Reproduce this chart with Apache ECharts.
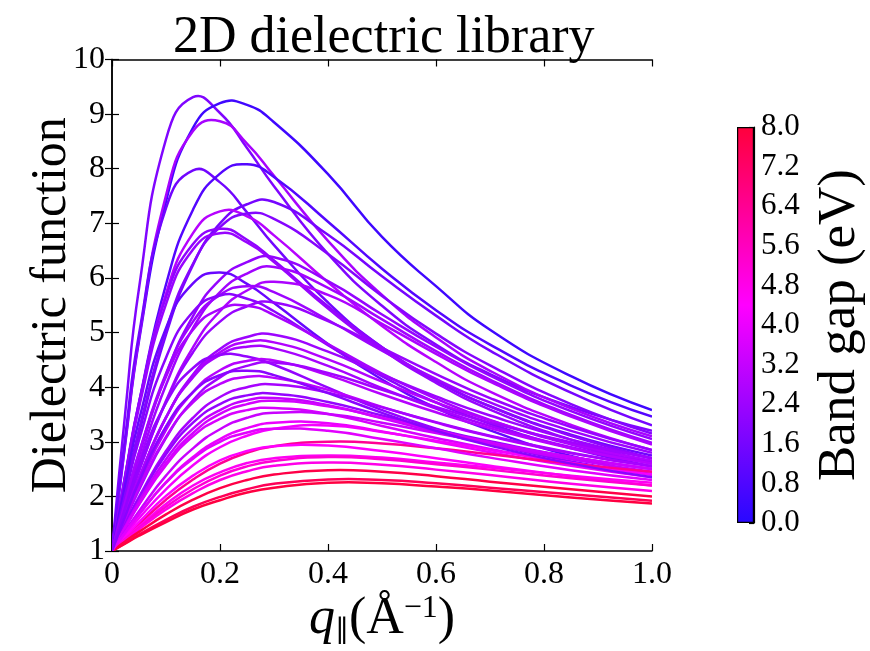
<!DOCTYPE html>
<html>
<head>
<meta charset="utf-8">
<script src="https://cdn.jsdelivr.net/npm/echarts@6/dist/echarts.min.js"></script>
<style>
  html, body { margin: 0; padding: 0; background: #fff; }
  #chart { width: 870px; height: 651px; }
</style>
</head>
<body>
<div id="chart"></div>
<script>
// Momentum grid (1/Å) shared by every dielectric curve
const qGrid = [0, 0.025, 0.05, 0.1, 0.15, 0.2, 0.25, 0.3, 0.4, 0.5, 0.6, 0.7, 0.85, 1.0];

// Static dielectric function ε(q) of each 2D material, sampled on qGrid
const epsilonCurves = [
  [1, 3.58, 5.81, 8.54, 9.31, 9.02, 8.38, 7.68, 6.44, 5.49, 4.78, 4.24, 3.64, 3.20],
  [1, 3.00, 4.85, 7.40, 8.75, 9.20, 9.17, 8.85, 7.90, 6.75, 5.85, 5.05, 4.20, 3.58],
  [1, 3.04, 4.89, 7.51, 8.69, 8.87, 8.46, 7.87, 6.68, 5.69, 4.91, 4.30, 3.61, 3.10],
  [1, 3.13, 4.97, 7.28, 7.97, 7.75, 7.20, 6.60, 5.55, 4.73, 4.12, 3.65, 3.13, 2.75],
  [1, 2.40, 3.72, 5.88, 7.25, 7.91, 8.08, 7.85, 7.03, 6.17, 5.41, 4.78, 4.03, 3.46],
  [1, 2.10, 3.15, 4.96, 6.24, 7.00, 7.35, 7.39, 6.79, 6.03, 5.31, 4.67, 3.90, 3.30],
  [1, 2.40, 3.70, 5.71, 6.82, 7.22, 7.13, 6.78, 5.92, 5.12, 4.46, 3.92, 3.31, 2.85],
  [1, 2.14, 3.22, 5.04, 6.26, 6.93, 7.18, 7.08, 6.44, 5.67, 4.98, 4.40, 3.69, 3.15],
  [1, 2.42, 3.72, 5.65, 6.62, 6.90, 6.70, 6.32, 5.48, 4.73, 4.13, 3.65, 3.11, 2.70],
  [1, 2.37, 3.63, 5.52, 6.52, 6.82, 6.65, 6.29, 5.44, 4.69, 4.08, 3.59, 3.04, 2.62],
  [1, 1.89, 2.74, 4.23, 5.30, 5.97, 6.29, 6.38, 5.94, 5.33, 4.74, 4.21, 3.56, 3.05],
  [1, 2.25, 3.40, 5.08, 5.90, 6.10, 5.89, 5.54, 4.79, 4.14, 3.62, 3.21, 2.74, 2.40],
  [1, 1.84, 2.63, 4.04, 5.08, 5.74, 6.08, 6.20, 5.82, 5.24, 4.66, 4.14, 3.49, 2.98],
  [1, 1.75, 2.47, 3.75, 4.73, 5.39, 5.77, 5.93, 5.69, 5.16, 4.61, 4.10, 3.46, 2.95],
  [1, 1.93, 2.80, 4.25, 5.20, 5.69, 5.85, 5.74, 5.23, 4.67, 4.15, 3.72, 3.20, 2.80],
  [1, 2.05, 3.03, 4.54, 5.38, 5.68, 5.62, 5.39, 4.77, 4.20, 3.72, 3.33, 2.88, 2.55],
  [1, 1.76, 2.47, 3.73, 4.64, 5.20, 5.48, 5.55, 5.21, 4.72, 4.24, 3.80, 3.27, 2.85],
  [1, 1.93, 2.80, 4.19, 5.05, 5.43, 5.49, 5.32, 4.79, 4.25, 3.79, 3.40, 2.95, 2.60],
  [1, 1.68, 2.33, 3.44, 4.23, 4.70, 4.92, 4.96, 4.65, 4.23, 3.83, 3.48, 3.04, 2.70],
  [1, 1.68, 2.33, 3.44, 4.20, 4.64, 4.83, 4.82, 4.51, 4.10, 3.72, 3.39, 2.97, 2.65],
  [1, 1.69, 2.34, 3.45, 4.18, 4.59, 4.74, 4.71, 4.39, 3.98, 3.61, 3.29, 2.90, 2.60],
  [1, 1.81, 2.56, 3.71, 4.35, 4.59, 4.56, 4.41, 3.99, 3.58, 3.24, 2.97, 2.64, 2.40],
  [1, 1.62, 2.21, 3.22, 3.91, 4.31, 4.48, 4.49, 4.22, 3.87, 3.54, 3.25, 2.88, 2.60],
  [1, 1.57, 2.12, 3.07, 3.76, 4.18, 4.39, 4.45, 4.26, 3.95, 3.64, 3.35, 2.99, 2.70],
  [1, 1.59, 2.15, 3.09, 3.72, 4.06, 4.19, 4.17, 3.95, 3.64, 3.35, 3.10, 2.79, 2.55],
  [1, 1.51, 1.99, 2.83, 3.44, 3.82, 4.00, 4.05, 3.90, 3.63, 3.36, 3.11, 2.80, 2.55],
  [1, 1.49, 1.96, 2.77, 3.35, 3.69, 3.85, 3.88, 3.73, 3.48, 3.23, 3.01, 2.72, 2.50],
  [1, 1.46, 1.91, 2.68, 3.24, 3.58, 3.76, 3.80, 3.67, 3.43, 3.18, 2.96, 2.68, 2.45],
  [1, 1.44, 1.86, 2.61, 3.16, 3.51, 3.69, 3.75, 3.65, 3.44, 3.21, 2.99, 2.72, 2.50],
  [1, 1.43, 1.85, 2.57, 3.10, 3.42, 3.58, 3.62, 3.51, 3.29, 3.07, 2.87, 2.61, 2.40],
  [1, 1.37, 1.73, 2.38, 2.88, 3.23, 3.44, 3.53, 3.51, 3.35, 3.16, 2.97, 2.72, 2.50],
  [1, 1.34, 1.67, 2.26, 2.72, 3.05, 3.25, 3.35, 3.34, 3.19, 3.00, 2.81, 2.56, 2.35],
  [1, 1.30, 1.60, 2.13, 2.57, 2.90, 3.11, 3.24, 3.30, 3.18, 3.02, 2.85, 2.61, 2.40],
  [1, 1.25, 1.49, 1.94, 2.31, 2.60, 2.80, 2.92, 3.00, 2.97, 2.88, 2.77, 2.60, 2.45],
  [1, 1.27, 1.53, 2.01, 2.38, 2.66, 2.83, 2.92, 2.93, 2.83, 2.70, 2.56, 2.37, 2.20],
  [1, 1.23, 1.45, 1.86, 2.20, 2.44, 2.61, 2.70, 2.75, 2.71, 2.62, 2.53, 2.38, 2.25],
  [1, 1.22, 1.42, 1.81, 2.13, 2.38, 2.55, 2.65, 2.72, 2.68, 2.59, 2.49, 2.33, 2.20],
  [1, 1.20, 1.40, 1.76, 2.06, 2.30, 2.46, 2.56, 2.62, 2.58, 2.49, 2.39, 2.23, 2.10],
  [1, 1.18, 1.35, 1.67, 1.94, 2.15, 2.30, 2.40, 2.48, 2.45, 2.37, 2.27, 2.13, 2.00],
  [1, 1.15, 1.30, 1.57, 1.81, 1.99, 2.13, 2.23, 2.31, 2.30, 2.24, 2.16, 2.04, 1.92],
  [1, 1.14, 1.28, 1.53, 1.76, 1.93, 2.07, 2.16, 2.25, 2.24, 2.18, 2.11, 1.98, 1.87],
  [1, 1.34, 1.67, 2.25, 2.69, 3.00, 3.17, 3.24, 3.20, 3.05, 2.88, 2.71, 2.48, 2.30],
  [1, 1.65, 2.27, 3.28, 3.91, 4.22, 4.30, 4.22, 3.89, 3.53, 3.20, 2.93, 2.60, 2.35]
];

// Band gap (eV) of each material, in the same order as epsilonCurves
const bandGap = [1.8, 0.5, 2.6, 1.5, 0.9, 1.6, 2.9, 1.9, 2.1, 2.3, 2.2, 1.3, 2.5, 2.7, 2.4,
                 2.0, 2.3, 2.6, 2.4, 2.8, 2.6, 2.2, 2.9, 2.5, 3.0, 2.6, 2.2, 3.2, 3.5, 3.6,
                 3.3, 4.0, 4.2, 6.4, 4.4, 4.6, 5.2, 4.8, 7.8, 7.5, 7.9, 3.8, 2.0];

// Axis ticks
const xTicks = [0, 0.2, 0.4, 0.6, 0.8, 1.0];
const yTicks = [1, 2, 3, 4, 5, 6, 7, 8, 9, 10];
const gapTicks = [0.0, 0.8, 1.6, 2.4, 3.2, 4.0, 4.8, 5.6, 6.4, 7.2, 8.0];

// Blue → magenta → red colour scale for the band gap
const gapMin = 0, gapMax = 8;
const colorStops = [
  { at: 0.0, rgb: [40, 8, 255] },
  { at: 0.55, rgb: [255, 0, 255] },
  { at: 1.0, rgb: [255, 0, 60] }
];
function gapColor(g) {
  const t = Math.min(1, Math.max(0, (g - gapMin) / (gapMax - gapMin)));
  let a = colorStops[0], b = colorStops[colorStops.length - 1];
  for (let i = 0; i < colorStops.length - 1; i++) {
    if (t >= colorStops[i].at && t <= colorStops[i + 1].at) { a = colorStops[i]; b = colorStops[i + 1]; break; }
  }
  const f = (t - a.at) / ((b.at - a.at) || 1);
  const c = a.rgb.map((v, k) => Math.round(v + (b.rgb[k] - v) * f));
  return 'rgb(' + c.join(',') + ')';
}

const FONT = 'Liberation Serif';
const tickFont = { fontFamily: FONT, fontSize: 32, color: '#000' };

const chart = echarts.init(document.getElementById('chart'), null, { renderer: 'canvas' });

// One smooth polyline per material, positioned through the cartesian axes
const curveSeries = {
  type: 'custom',
  coordinateSystem: 'cartesian2d',
  xAxisIndex: 0,
  yAxisIndex: 0,
  clip: true,
  silent: true,
  data: epsilonCurves.map(c => [qGrid[0], c[0]]),
  renderItem: (params, api) => {
    const eps = epsilonCurves[params.dataIndex];
    const points = qGrid.map((q, j) => api.coord([q, eps[j]]));
    return {
      type: 'polyline',
      shape: { points: points, smooth: 0.5 },
      style: { stroke: gapColor(bandGap[params.dataIndex]), lineWidth: 2.5, fill: null },
      silent: true
    };
  },
  z: 2
};

const colorbarSeries = {
  type: 'bar',
  xAxisIndex: 2,
  yAxisIndex: 2,
  data: [gapMax],
  barWidth: '100%',
  silent: true,
  itemStyle: {
    borderColor: '#000',
    borderWidth: 1.2,
    color: new echarts.graphic.LinearGradient(0, 1, 0, 0,
      colorStops.map(s => ({ offset: s.at, color: 'rgb(' + s.rgb.join(',') + ')' })))
  }
};

const option = {
  animation: false,
  backgroundColor: '#fff',
  title: {
    text: '2D dielectric library',
    left: 168,
    top: 7,
    textStyle: { fontFamily: FONT, fontSize: 52, fontWeight: 'normal', color: '#000' }
  },
  grid: [
    { left: 112, top: 59.5, width: 540, height: 491.5, show: false },
    { left: 737, top: 127, width: 17, height: 396, show: false }
  ],
  xAxis: [
    {
      type: 'value', gridIndex: 0, min: 0, max: 1, interval: 0.2,
      position: 'bottom',
      name: '{q|q}{sub|∥}{n|(Å}{sup|−1}{n|)}',
      nameLocation: 'middle',
      nameGap: 42,
      nameMoveOverlap: false,
      nameTextStyle: {
        rich: {
          q: { fontFamily: FONT, fontSize: 52, fontStyle: 'italic', color: '#000' },
          sub: { fontFamily: FONT, fontSize: 28, color: '#000', verticalAlign: 'bottom' },
          n: { fontFamily: FONT, fontSize: 52, color: '#000' },
          sup: { fontFamily: FONT, fontSize: 32, color: '#000', verticalAlign: 'top' }
        }
      },
      splitLine: { show: false },
      axisLine: { show: true, lineStyle: { color: '#000', width: 1.5 } },
      axisTick: { show: true, inside: true, length: 7, lineStyle: { color: '#000', width: 1.2 } },
      axisLabel: {
        ...tickFont, margin: 8,
        formatter: v => (xTicks.some(t => Math.abs(t - v) < 1e-9) ? (v === 0 ? '0' : v.toFixed(1)) : '')
      }
    },
    {
      type: 'value', gridIndex: 0, min: 0, max: 1, interval: 0.2,
      position: 'top',
      splitLine: { show: false },
      axisLine: { show: true, lineStyle: { color: '#000', width: 1.5 } },
      axisTick: { show: true, inside: true, length: 7, lineStyle: { color: '#000', width: 1.2 } },
      axisLabel: { show: false }
    },
    {
      type: 'category', gridIndex: 1, data: [''],
      show: false
    }
  ],
  yAxis: [
    {
      type: 'value', gridIndex: 0, min: yTicks[0], max: yTicks[yTicks.length - 1], interval: 1,
      position: 'left',
      name: 'Dielectric function',
      nameLocation: 'middle',
      nameGap: 35,
      nameMoveOverlap: false,
      nameRotate: 90,
      nameTextStyle: { fontFamily: FONT, fontSize: 50, color: '#000' },
      splitLine: { show: false },
      axisLine: { show: true, lineStyle: { color: '#000', width: 1.5 } },
      axisTick: { show: true, inside: true, length: 7, lineStyle: { color: '#000', width: 1.2 } },
      axisLabel: { ...tickFont, margin: 7, formatter: v => String(v) }
    },
    {
      type: 'value', gridIndex: 0, min: 1, max: 10, interval: 1,
      position: 'right',
      splitLine: { show: false },
      axisLine: { show: true, lineStyle: { color: '#000', width: 1.5 } },
      axisTick: { show: true, inside: true, length: 7, lineStyle: { color: '#000', width: 1.2 } },
      axisLabel: { show: false }
    },
    {
      type: 'value', gridIndex: 1, min: gapTicks[0], max: gapTicks[gapTicks.length - 1], interval: 0.8,
      position: 'right',
      name: 'Band gap (eV)',
      nameLocation: 'middle',
      nameGap: 60,
      nameMoveOverlap: false,
      nameRotate: 90,
      nameTextStyle: { fontFamily: FONT, fontSize: 53, color: '#000' },
      splitLine: { show: false },
      axisLine: { show: true, lineStyle: { color: '#000', width: 1.2 } },
      axisTick: { show: true, inside: true, length: 5, lineStyle: { color: '#000', width: 1.2 } },
      axisLabel: { ...tickFont, fontSize: 31, margin: 7, formatter: v => v.toFixed(1) }
    }
  ],
  series: [curveSeries, colorbarSeries]
};

chart.setOption(option);
</script>
</body>
</html>
